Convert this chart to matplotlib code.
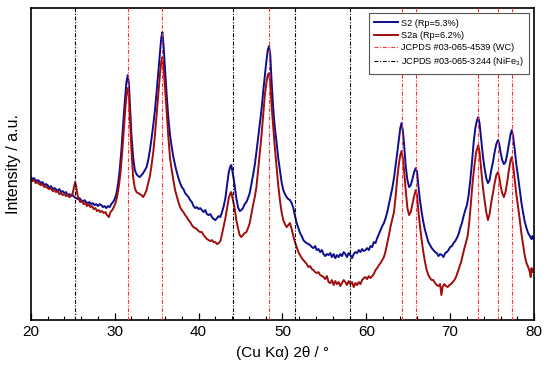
import matplotlib
matplotlib.use("Agg")
import matplotlib.pyplot as plt
from matplotlib.ticker import MultipleLocator

plt.rcParams['font.family'] = ['Liberation Sans', 'DejaVu Sans']
plt.rcParams['mathtext.default'] = 'regular'

# ---- data ----
s2_2theta = [20.0, 20.2, 20.4, 20.6, 20.8, 21.0, 21.2, 21.4, 21.6, 21.8, 22.0, 22.2, 22.4, 22.6, 22.8,
             23.0, 23.2, 23.4, 23.6, 23.8, 24.0, 24.2, 24.4, 24.6, 24.8, 25.0, 25.2, 25.4, 25.6, 25.8,
             26.0, 26.2, 26.4, 26.6, 26.8, 27.0, 27.2, 27.4, 27.6, 27.8, 28.0, 28.2, 28.4, 28.6, 28.8,
             29.0, 29.2, 29.4, 29.6, 29.8, 30.0, 30.2, 30.4, 30.6, 30.8, 31.0, 31.2, 31.4, 31.56, 31.7,
             31.85, 32.0, 32.2, 32.4, 32.6, 32.8, 33.0, 33.2, 33.4, 33.6, 33.8, 34.0, 34.2, 34.4, 34.6,
             34.8, 35.0, 35.2, 35.4, 35.55, 35.69, 35.85, 36.0, 36.2, 36.4, 36.6, 36.8, 37.0, 37.2, 37.4,
             37.6, 37.8, 38.0, 38.2, 38.4, 38.6, 38.8, 39.0, 39.2, 39.4, 39.6, 39.8, 40.0, 40.2, 40.4,
             40.6, 40.8, 41.0, 41.2, 41.4, 41.6, 41.8, 42.0, 42.2, 42.4, 42.6, 42.8, 43.0, 43.2, 43.4,
             43.6, 43.8, 43.9, 44.1, 44.3, 44.5, 44.7, 44.9, 45.1, 45.3, 45.5, 45.7, 45.9, 46.1, 46.3,
             46.5, 46.7, 46.9, 47.1, 47.3, 47.5, 47.7, 47.9, 48.1, 48.25, 48.4, 48.55, 48.7, 48.9, 49.1,
             49.3, 49.5, 49.7, 49.9, 50.1, 50.3, 50.5, 50.7, 50.9, 51.1, 51.3, 51.5, 51.7, 51.9, 52.1,
             52.3, 52.5, 52.7, 52.9, 53.1, 53.3, 53.5, 53.7, 53.9, 54.1, 54.3, 54.5, 54.7, 54.9, 55.1,
             55.3, 55.5, 55.7, 55.9, 56.1, 56.3, 56.5, 56.7, 56.9, 57.1, 57.3, 57.5, 57.7, 57.9, 58.1,
             58.3, 58.5, 58.7, 58.9, 59.1, 59.3, 59.5, 59.7, 59.9, 60.1, 60.3, 60.5, 60.7, 60.9, 61.1,
             61.3, 61.5, 61.7, 61.9, 62.1, 62.3, 62.5, 62.7, 62.9, 63.1, 63.3, 63.5, 63.7, 63.9, 64.05,
             64.2, 64.35, 64.5, 64.7, 64.9, 65.1, 65.3, 65.5, 65.7, 65.9, 66.05, 66.2, 66.4, 66.6, 66.8,
             67.0, 67.2, 67.4, 67.6, 67.8, 68.0, 68.2, 68.4, 68.6, 68.8, 69.0, 69.2, 69.4, 69.6, 69.8,
             70.0, 70.2, 70.4, 70.6, 70.8, 71.0, 71.2, 71.4, 71.6, 71.8, 72.0, 72.2, 72.4, 72.6, 72.8,
             73.0, 73.2, 73.35, 73.5, 73.7, 73.9, 74.1, 74.3, 74.5, 74.7, 74.9, 75.1, 75.3, 75.5, 75.7,
             75.85, 76.0, 76.2, 76.4, 76.6, 76.8, 77.0, 77.2, 77.35, 77.5, 77.7, 77.9, 78.1, 78.3, 78.5,
             78.7, 78.9, 79.1, 79.3, 79.5, 79.7, 79.8, 80.0]
s2_intensity = [143, 141, 142, 139, 140, 139, 137, 138, 135, 136, 135, 132, 134, 131, 132,
                131, 129, 131, 128, 129, 127, 128, 125, 126, 124, 125, 123, 122, 121, 122,
                120, 118, 120, 118, 117, 118, 116, 117, 115, 116, 114, 116, 115, 113, 114,
                112, 114, 113, 116, 118, 121, 126, 136, 150, 170, 195, 218, 238, 245, 236,
                210, 185, 163, 150, 146, 144, 143, 145, 147, 150, 153, 160, 170, 182, 195,
                210, 228, 248, 268, 282, 288, 272, 252, 225, 202, 185, 173, 163, 155, 148,
                142, 137, 133, 131, 127, 125, 123, 120, 118, 114, 112, 113, 111, 112, 110,
                108, 110, 106, 105, 106, 103, 101, 100, 102, 104, 103, 108, 114, 122, 135,
                148, 154, 155, 146, 135, 122, 113, 109, 110, 112, 116, 118, 122, 127, 136,
                145, 155, 168, 182, 196, 210, 228, 244, 260, 270, 274, 265, 240, 212, 192,
                178, 162, 150, 138, 130, 126, 123, 121, 120, 117, 112, 104, 97, 92, 87,
                84, 80, 78, 77, 76, 75, 73, 72, 74, 70, 71, 68, 70, 66, 64,
                66, 65, 67, 63, 66, 62, 65, 63, 66, 64, 68, 66, 63, 67, 65,
                62, 66, 68, 67, 70, 68, 71, 69, 70, 72, 70, 74, 73, 78, 77,
                82, 86, 90, 94, 97, 102, 108, 116, 124, 132, 142, 155, 168, 182, 192,
                197, 190, 176, 154, 140, 133, 135, 141, 148, 152, 148, 135, 120, 108, 98,
                90, 84, 78, 75, 72, 70, 68, 67, 64, 66, 65, 63, 67, 68, 70,
                73, 74, 77, 79, 82, 86, 92, 97, 104, 110, 115, 125, 140, 158, 178,
                192, 200, 203, 197, 180, 164, 152, 142, 137, 140, 150, 158, 168, 176, 180,
                176, 168, 160, 156, 158, 166, 176, 186, 190, 184, 170, 155, 143, 130, 117,
                107, 98, 92, 87, 84, 81, 84, 80]

s2a_2theta = [20.0, 20.2, 20.4, 20.6, 20.8, 21.0, 21.2, 21.4, 21.6, 21.8, 22.0, 22.2, 22.4, 22.6, 22.8,
              23.0, 23.2, 23.4, 23.6, 23.8, 24.0, 24.2, 24.4, 24.6, 24.8, 25.0, 25.15, 25.28, 25.4, 25.55,
              25.7, 25.9, 26.1, 26.3, 26.5, 26.7, 26.9, 27.1, 27.3, 27.5, 27.7, 27.9, 28.1, 28.3, 28.5,
              28.7, 28.9, 29.1, 29.3, 29.5, 29.7, 29.9, 30.1, 30.3, 30.5, 30.7, 30.9, 31.1, 31.3, 31.45,
              31.56, 31.7, 31.85, 32.0, 32.2, 32.4, 32.6, 32.8, 33.0, 33.2, 33.4, 33.6, 33.8, 34.0, 34.2,
              34.4, 34.6, 34.8, 35.0, 35.2, 35.4, 35.55, 35.69, 35.85, 36.0, 36.2, 36.4, 36.6, 36.8, 37.0,
              37.2, 37.4, 37.6, 37.8, 38.0, 38.2, 38.4, 38.6, 38.8, 39.0, 39.2, 39.4, 39.6, 39.8, 40.0,
              40.2, 40.4, 40.6, 40.8, 41.0, 41.2, 41.4, 41.6, 41.8, 42.0, 42.2, 42.4, 42.6, 42.8, 43.0,
              43.2, 43.4, 43.6, 43.8, 43.9, 44.1, 44.3, 44.5, 44.7, 44.9, 45.1, 45.3, 45.5, 45.7, 45.9,
              46.1, 46.3, 46.5, 46.7, 46.9, 47.1, 47.3, 47.5, 47.7, 47.9, 48.1, 48.25, 48.4, 48.55, 48.7,
              48.9, 49.1, 49.3, 49.5, 49.7, 49.9, 50.1, 50.3, 50.5, 50.7, 50.9, 51.1, 51.3, 51.5, 51.7,
              51.9, 52.1, 52.3, 52.5, 52.7, 52.9, 53.1, 53.3, 53.5, 53.7, 53.9, 54.1, 54.3, 54.5, 54.7,
              54.9, 55.1, 55.3, 55.5, 55.7, 55.9, 56.1, 56.3, 56.5, 56.7, 56.9, 57.1, 57.3, 57.5, 57.7,
              57.9, 58.1, 58.3, 58.5, 58.7, 58.9, 59.1, 59.3, 59.5, 59.7, 59.9, 60.1, 60.3, 60.5, 60.7,
              60.9, 61.1, 61.3, 61.5, 61.7, 61.9, 62.1, 62.3, 62.5, 62.7, 62.9, 63.1, 63.3, 63.5, 63.7,
              63.9, 64.05, 64.2, 64.35, 64.5, 64.7, 64.9, 65.1, 65.3, 65.5, 65.7, 65.9, 66.05, 66.2, 66.4,
              66.6, 66.8, 67.0, 67.2, 67.4, 67.6, 67.8, 68.0, 68.2, 68.4, 68.6, 68.8, 68.95, 69.1, 69.3,
              69.5, 69.7, 69.9, 70.1, 70.3, 70.5, 70.7, 70.9, 71.1, 71.3, 71.5, 71.7, 71.9, 72.1, 72.3,
              72.5, 72.7, 72.9, 73.1, 73.35, 73.5, 73.7, 73.9, 74.1, 74.3, 74.5, 74.7, 74.9, 75.1, 75.3,
              75.5, 75.7, 75.85, 76.0, 76.2, 76.4, 76.6, 76.8, 77.0, 77.2, 77.35, 77.5, 77.7, 77.9, 78.1,
              78.3, 78.5, 78.7, 78.9, 79.1, 79.3, 79.5, 79.6, 79.7, 79.8, 80.0]
s2a_intensity = [141, 139, 140, 137, 138, 136, 135, 136, 133, 134, 132, 131, 132, 129, 130,
                 128, 129, 126, 127, 125, 126, 124, 125, 123, 124, 127, 133, 138, 134, 126,
                 121, 118, 119, 116, 117, 114, 116, 113, 114, 111, 112, 109, 110, 108, 109,
                 107, 108, 105, 103, 108, 110, 113, 117, 124, 134, 148, 168, 192, 215, 228,
                 232, 224, 198, 170, 143, 132, 128, 127, 126, 125, 123, 126, 130, 137, 144,
                 155, 168, 185, 205, 225, 246, 258, 263, 250, 233, 208, 183, 162, 150, 140,
                 130, 124, 118, 113, 110, 108, 105, 103, 100, 98, 95, 93, 92, 91, 89,
                 88, 88, 85, 83, 81, 80, 79, 80, 78, 78, 76, 77, 79, 86, 94,
                 102, 112, 122, 127, 128, 120, 112, 100, 92, 85, 83, 85, 87, 88, 92,
                 97, 106, 115, 123, 133, 150, 166, 184, 205, 225, 238, 245, 247, 238, 215,
                 193, 172, 154, 135, 120, 108, 100, 96, 93, 95, 97, 91, 84, 78, 73,
                 68, 65, 62, 60, 58, 56, 53, 54, 51, 50, 48, 47, 48, 45, 44,
                 43, 41, 44, 38, 37, 40, 35, 39, 36, 38, 34, 37, 40, 38, 35,
                 39, 36, 38, 33, 37, 35, 38, 36, 40, 42, 43, 41, 44, 42, 44,
                 46, 50, 52, 55, 57, 60, 63, 69, 77, 85, 94, 101, 108, 124, 143,
                 157, 165, 169, 162, 150, 130, 112, 105, 108, 116, 124, 130, 125, 110, 94,
                 80, 68, 58, 50, 45, 42, 40, 40, 37, 35, 34, 36, 25, 33, 36,
                 34, 33, 35, 36, 38, 40, 43, 48, 53, 58, 65, 72, 78, 85, 100,
                 120, 140, 155, 168, 175, 168, 150, 133, 120, 108, 100, 106, 118, 127, 137,
                 145, 148, 143, 135, 127, 123, 128, 138, 150, 160, 163, 155, 140, 125, 113,
                 100, 86, 75, 64, 57, 53, 48, 43, 52, 48, 50]

wc_lines = [31.55, 35.7, 48.4, 64.2, 65.9, 73.35, 75.7, 77.35]
nife3_lines = [25.25, 44.15, 51.45, 58.0]

labels = ['S2 (Rp=5.3%)', 'S2a (Rp=6.2%)',
          'JCPDS #03-065-4539 (WC)', 'JCPDS #03-065-3244 (NiFe$_3$)']

# ---- figure ----
fig = plt.figure(figsize=(5.5, 3.7), dpi=100)
ax = fig.add_axes([0.056, 0.135, 0.915, 0.843])

ax.plot(s2_2theta, s2_intensity, color='#0d0d8f', lw=1.4, label=labels[0], zorder=2)
ax.plot(s2a_2theta, s2a_intensity, color='#a00d0d', lw=1.4, label=labels[1], zorder=2)

dashdot = (0, (3.5, 1.5, 1, 1.5))
for i, v in enumerate(wc_lines):
    ax.axvline(v, color='#ff3030', lw=0.8, ls=dashdot, zorder=3,
               label=labels[2] if i == 0 else None)
for i, v in enumerate(nife3_lines):
    ax.axvline(v, color='black', lw=0.8, ls=dashdot, zorder=3,
               label=labels[3] if i == 0 else None)

ax.set_xlim(20, 80)
ax.set_ylim(0, 312)
ax.xaxis.set_major_locator(MultipleLocator(10))
ax.xaxis.set_minor_locator(MultipleLocator(2))
ax.tick_params(axis='x', which='both', direction='in', labelsize=11)
ax.tick_params(axis='x', which='major', length=5, width=0.9)
ax.tick_params(axis='x', which='minor', length=3, width=0.8)
ax.set_yticks([])
for s in ax.spines.values():
    s.set_linewidth(1.2)

ax.set_xlabel('(Cu Kα) 2θ / °', fontsize=11, labelpad=5)
ax.set_ylabel('Intensity / a.u.', fontsize=11.5, labelpad=7)

leg = ax.legend(loc='upper right', bbox_to_anchor=(0.99, 0.984), borderaxespad=0,
                fontsize=6.6, frameon=True, fancybox=False, edgecolor='#555555', framealpha=1,
                handlelength=2.6, handletextpad=0.35, borderpad=0.6, labelspacing=0.35)
leg.get_frame().set_linewidth(0.8)
leg.set_zorder(5)

fig.savefig('out.png', dpi=100)
